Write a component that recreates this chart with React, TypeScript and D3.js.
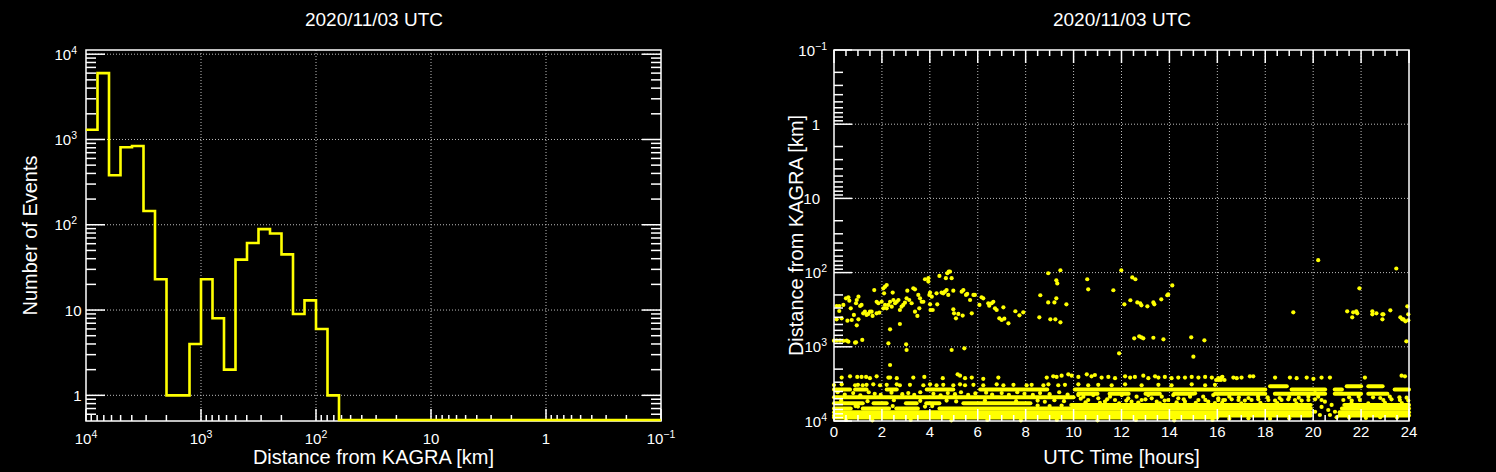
import React from "react";
import * as d3 from "d3";

// ---------- data ----------
const plotTitle = "2020/11/03 UTC";

// Histogram: 50 bins, 0.1 decade wide, from 10^4 km down to 10^-1 km
const histCounts = [
  1300, 6000, 380, 810, 840, 145, 23, 1, 1, 4,
  23, 8, 2, 39, 61, 89, 79, 45, 9, 13,
  6, 1, 0, 0, 0, 0, 0, 0, 0, 0,
  0, 0, 0, 0, 0, 0, 0, 0, 0, 0,
  0, 0, 0, 0, 0, 0, 0, 0, 0, 0,
];
const histLogStart = 4;
const histBinWidthLog = 0.1;

const distTicks = [1e4, 1e3, 1e2, 10, 1, 0.1];
const distTickLabels = ["10^4", "10^3", "10^2", "10", "1", "10^−1"];
const countTicks = [1e4, 1e3, 1e2, 10, 1];
const countTickLabels = ["10^4", "10^3", "10^2", "10", "1"];
const hourTicks = [0, 2, 4, 6, 8, 10, 12, 14, 16, 18, 20, 22, 24];

// Scatter: isolated events [hour, km]
const upperEvents: [number, number][] = [
  [0.11, 282], [0.22, 282], [0.39, 273], [0.22, 329], [0.11, 426], [0.32, 413], [0.56, 445],
  [0.5, 222], [0.6, 215], [0.64, 239], [0.7, 303], [0.74, 435], [0.83, 372], [0.92, 259],
  [0.95, 234], [1.02, 211], [0.95, 514], [1.02, 426], [1.09, 282], [1.15, 273], [1.22, 354],
  [1.29, 336], [1.36, 372], [1.43, 361], [1.5, 336], [1.57, 336], [1.61, 384], [1.68, 172],
  [1.78, 354], [1.78, 247], [1.85, 259], [1.89, 347], [1.99, 247], [2.06, 163], [2.09, 190],
  [2.13, 155], [2.2, 147], [2.06, 303], [2.13, 273], [2.2, 303], [2.27, 273], [2.34, 247],
  [2.41, 288], [2.45, 186], [2.48, 234], [2.55, 259], [2.62, 247], [2.69, 234], [2.75, 319],
  [2.75, 493], [2.34, 582], [2.82, 288], [2.89, 273], [2.96, 254], [3.03, 222], [3.06, 175],
  [3.14, 234], [3.24, 259], [3.31, 163], [3.38, 168], [3.38, 336], [3.48, 384], [3.52, 200],
  [3.59, 222], [3.56, 303], [3.66, 247], [3.73, 247], [3.8, 123], [3.94, 119], [3.94, 132],
  [3.98, 200], [4.01, 186], [4.08, 211], [4.01, 268], [4.03, 319], [4.12, 319], [4.28, 190],
  [4.31, 268], [4.4, 111], [4.49, 186], [4.56, 190], [4.63, 181], [4.7, 172], [4.67, 119],
  [4.73, 102], [4.79, 97], [4.84, 97], [4.91, 119], [4.77, 200], [4.98, 175], [4.98, 313],
  [5.01, 354], [5.09, 413], [5.19, 361], [5.33, 181], [5.4, 172], [5.37, 380], [5.51, 200],
  [5.56, 194], [5.68, 234], [5.75, 354], [5.82, 200], [5.88, 200], [6.07, 273], [6.16, 215],
  [6.23, 222], [6.44, 259], [6.48, 279], [6.58, 259], [6.65, 247], [6.72, 303], [6.79, 319],
  [6.9, 413], [7.0, 435], [7.07, 294], [7.11, 418], [7.28, 483], [7.57, 332], [7.74, 376],
  [7.9, 343],
  [0.0, 826], [0.11, 826], [0.25, 826], [0.39, 830], [0.53, 826], [0.6, 853], [0.88, 880],
  [0.92, 871], [1.18, 809], [2.27, 898], [3.01, 927], [3.03, 1104], [4.91, 1104], [5.44, 1050],
  [2.34, 1760],
  [8.94, 102], [9.45, 93], [9.28, 127], [9.32, 140], [8.61, 202], [8.94, 252], [9.2, 252],
  [9.28, 222], [9.7, 268], [8.57, 401], [9.03, 426], [9.24, 426], [9.45, 468], [10.57, 123],
  [10.61, 168], [11.66, 173], [11.99, 93], [12.45, 116], [12.58, 123], [12.12, 268],
  [12.37, 236], [12.66, 252], [12.78, 259], [12.83, 276], [13.08, 285], [13.33, 252],
  [13.37, 268], [13.66, 229], [13.91, 202], [13.95, 197], [14.12, 149], [12.53, 769],
  [12.74, 723], [12.83, 745], [12.91, 769], [13.33, 755], [13.75, 793], [14.91, 745],
  [15.46, 818], [15.0, 1360], [11.9, 1225], [19.17, 343], [20.21, 68], [21.42, 333],
  [21.63, 401], [21.67, 343], [21.8, 333], [21.84, 354], [21.93, 163], [22.47, 333],
  [22.47, 365], [22.64, 354], [22.89, 365], [22.93, 365], [22.89, 426], [23.22, 322],
  [23.47, 88], [23.64, 401], [23.72, 426], [23.77, 426], [23.85, 454], [23.93, 285],
  [23.97, 365], [23.97, 440], [23.89, 843],
];

// Sparse events at the top of the lower cluster (~2300–2800 km)
const bandTopEvents: [number, number][] = [
  [0.32, 2600], [0.67, 2500], [0.97, 2550], [1.15, 2550], [1.34, 2550], [1.5, 2650], [1.78, 2500],
  [2.27, 2600], [2.34, 2600], [2.62, 2650], [3.31, 2600], [3.77, 2550], [4.54, 2650], [5.16, 2350],
  [5.26, 2450], [5.47, 2650], [5.75, 2600], [6.23, 2700], [6.86, 2600],
  [8.88, 2600], [9.15, 2500], [9.29, 2550], [9.5, 2450], [9.78, 2350], [9.92, 2450], [10.2, 2550],
  [10.55, 2350], [10.75, 2500], [10.89, 2400], [11.17, 2600], [11.45, 2550], [11.73, 2650],
  [12.15, 2500], [12.36, 2600], [12.56, 2550], [12.91, 2450], [13.12, 2650], [13.4, 2500],
  [13.54, 2600], [13.81, 2550], [14.09, 2650], [14.37, 2600], [14.65, 2600], [14.93, 2550],
  [15.21, 2600], [15.49, 2550], [15.77, 2600], [16.04, 2650], [16.18, 2600],
  [16.21, 2540], [16.67, 2600], [16.81, 2650], [17.01, 2600], [17.36, 2500], [17.5, 2500],
  [18.41, 2600], [19.03, 2600], [19.31, 2650], [19.73, 2600], [20.01, 2700], [20.35, 2600],
  [20.7, 2600], [22.16, 2600], [23.69, 2450], [23.83, 2500],
  [15.95, 2800], [16.05, 2800], [16.15, 2800], [16.3, 2800],
];

// Sparse events at ~3100–3400 km
const bandMidEvents: [number, number][] = [
  [0.0, 3270], [0.32, 3200], [0.88, 3300], [1.0, 3250], [1.2, 3300], [1.36, 3250], [1.64, 3200],
  [1.92, 3300], [2.2, 3250], [2.62, 3200], [2.75, 3300], [3.17, 3250], [3.73, 3300], [4.01, 3200],
  [4.28, 3300], [4.56, 3250], [4.98, 3300], [5.26, 3200], [5.47, 3300], [5.82, 3250], [6.23, 3300],
  [6.79, 3200], [7.07, 3300], [7.49, 3250], [8.04, 3300],
  [8.25, 3250], [8.74, 3300], [8.95, 3200], [9.36, 3300], [9.64, 3250], [10.2, 3200], [10.61, 3300],
  [11.03, 3250], [11.59, 3300], [12.15, 3200], [12.84, 3300], [13.54, 3250], [14.09, 3300],
  [14.93, 3200], [15.49, 3300], [15.9, 3250],
];

// Scattered events inside the dense band
const bandScatterEvents: [number, number][] = [
  [10.2, 4470], [10.41, 4700], [10.61, 5210], [10.82, 4470], [11.03, 4950], [11.31, 5490],
  [11.52, 4700], [11.73, 5210], [12.01, 4470], [12.28, 4950], [12.42, 5490], [12.63, 4700],
  [12.84, 5210], [13.12, 4470], [13.26, 4950], [13.47, 5490], [13.68, 4700], [13.95, 5210],
  [14.16, 4470], [14.37, 4950], [14.65, 5490], [14.86, 4700], [15.07, 4240], [15.21, 5210],
  [15.41, 4700], [15.62, 5490], [15.83, 4470], [16.04, 4950], [16.25, 5210],
  [16.04, 5210], [16.32, 5210], [16.6, 5100], [16.88, 5210], [17.15, 5300], [17.43, 5210],
  [17.71, 5100], [18.13, 5210], [18.41, 5300], [18.68, 5210], [18.96, 5100], [19.24, 5210],
  [19.52, 5300], [19.8, 5210], [20.08, 5100], [20.35, 5210], [21.26, 5210], [21.61, 5300],
  [21.95, 5210], [22.93, 5210], [23.27, 5100], [23.62, 5210], [23.97, 5300],
  [20.08, 3820], [20.21, 4700], [20.35, 6470], [20.49, 5490], [20.63, 7110], [20.7, 8300],
  [20.77, 6080], [20.91, 7500], [20.98, 8900], [20.08, 7500], [20.28, 8300],
  [0.15, 4100], [0.45, 4400], [0.8, 4200], [1.1, 4500], [1.45, 4100], [1.7, 4300], [1.95, 4450],
  [2.4, 4150], [2.85, 4350], [3.1, 4200], [3.35, 4450], [3.6, 4100], [4.15, 4300], [4.45, 4500],
  [4.75, 4200], [5.05, 4350], [5.3, 4100], [5.6, 4450], [5.9, 4250], [6.35, 4150], [6.6, 4400],
  [7.0, 4200], [7.3, 4450], [7.65, 4100], [7.95, 4300], [8.3, 4450], [8.6, 4200], [9.0, 4350],
  [9.4, 4100], [9.75, 4400],
  [0.3, 5300], [1.4, 5400], [2.5, 5250], [3.6, 5350], [4.7, 5300], [5.1, 5450], [6.3, 5300],
  [7.6, 5400], [8.5, 5300], [8.8, 5500], [9.2, 5250], [9.6, 5400],
  [0.9, 6300], [1.0, 6400], [2.45, 6300], [3.8, 6400], [4.1, 6300], [8.5, 6200], [9.0, 6300],
  [9.5, 6200],
  [0.5, 9700], [1.6, 9800], [3.2, 9700], [4.9, 9800], [6.4, 9700], [7.8, 9800], [9.3, 9700],
  [11.0, 9800], [12.6, 9700], [14.2, 9800], [15.8, 9700], [16.5, 9300], [17.3, 9200],
  [18.2, 9300], [19.0, 9200], [21.5, 9000], [22.2, 9100], [22.8, 8900], [23.5, 9000],
  [10.3, 5000], [10.5, 5600], [11.1, 5700], [11.4, 5100], [11.9, 5800], [12.2, 5300],
  [12.7, 5650], [13.0, 5100], [13.6, 5800], [13.8, 5300], [14.3, 5600], [14.6, 5100],
  [15.1, 5700], [15.5, 5200], [15.9, 5750], [16.5, 4700], [16.9, 4800], [17.3, 4900],
  [17.7, 4700], [18.1, 4800], [18.6, 4900], [19.0, 4750], [19.4, 4850], [19.8, 4700],
  [21.5, 4800], [21.9, 4700], [22.5, 4800], [22.8, 4900], [23.2, 4700], [23.6, 4800],
  [23.9, 4850], [16.2, 5700], [17.0, 5800], [17.8, 5700], [18.5, 5750], [19.3, 5800],
  [21.6, 5750], [22.3, 5800], [23.0, 5700], [23.7, 5750],
];

// Dense runs of events that merge into continuous streaks [startHour, endHour, km]
const denseStreaks: [number, number, number][] = [
  [0, 16.0, 9000],
  [0, 19.9, 8400], [21.1, 24, 8400],
  [0, 19.9, 7600], [21.1, 24, 7600],
  [0, 0.7, 6800], [1.2, 2.3, 6800], [2.6, 3.5, 6800], [4.4, 19.9, 6800], [21.2, 24, 6800],
  [9.9, 19.9, 6100], [21.3, 24, 6100],
  [0, 1.2, 5770], [1.65, 2.2, 5770], [3.0, 3.45, 5770], [3.85, 4.4, 5770], [5.4, 8.2, 5770],
  [0, 10, 4800],
  [10.2, 11.0, 4300], [11.5, 12.3, 4300], [13.0, 13.6, 4300], [14.2, 15.0, 4300],
  [15.9, 18.0, 4300], [18.4, 20.5, 4300], [20.9, 22.0, 4300], [22.3, 23.1, 4300],
  [0, 0.67, 3750], [0.88, 1.36, 3750], [2.2, 2.62, 3750], [3.87, 4.98, 3750], [6.1, 8.9, 3750],
  [10.05, 18.0, 3750], [19.1, 20.5, 3750], [20.9, 21.2, 3750], [23.4, 24, 3750],
  [18.2, 18.9, 3400], [21.4, 22.0, 3400], [22.3, 22.9, 3400],
];

// ---------- styles ----------
const FONT = "'Liberation Sans', Arial, Helvetica, sans-serif";
const YELLOW = "#ffff00";
const GRID = "#bdbdbd";

function PowLabel(props: { x: number; y: number; label: string; anchor: string; size?: number }) {
  const { x, y, label, anchor } = props;
  const size = props.size ?? 15;
  const [base, exp] = label.split("^");
  return (
    <text x={x} y={y} textAnchor={anchor} fontSize={size} fill="#fff" fontFamily={FONT}>
      {base}
      {exp !== undefined && (
        <tspan dy={-6} fontSize={size * 0.7}>
          {exp}
        </tspan>
      )}
    </text>
  );
}

function logMinors(lo: number, hi: number): number[] {
  const out: number[] = [];
  for (let n = -2; n <= 5; n++) {
    for (let k = 2; k <= 9; k++) {
      const v = k * Math.pow(10, n);
      if (v > lo * 1.0001 && v < hi * 0.9999) out.push(v);
    }
  }
  return out;
}

export default function App() {
  // Left panel
  const L = { x0: 86, x1: 661, y0: 50, y1: 421 };
  const xL = d3.scaleLog().domain([1e4, 0.1]).range([L.x0, L.x1]);
  const yL = d3.scaleLog().domain([0.5, 11200]).range([L.y1, L.y0]);

  // Right panel
  const R = { x0: 834, x1: 1409, y0: 50, y1: 421 };
  const xR = d3.scaleLinear().domain([0, 24]).range([R.x0, R.x1]);
  const yR = d3.scaleLog().domain([0.1, 1e4]).range([R.y0, R.y1]);

  const edges = d3.range(histCounts.length + 1).map((i) => Math.pow(10, histLogStart - i * histBinWidthLog));
  const yc = (c: number) => (c > 0 ? yL(c) : L.y1 - 1);
  let hp = `M${xL(edges[0])},${yc(histCounts[0])}`;
  histCounts.forEach((c, i) => {
    hp += `H${xL(edges[i + 1])}`;
    if (i + 1 < histCounts.length) hp += `V${yc(histCounts[i + 1])}`;
  });

  const leftYMinor = logMinors(0.5, 11200);
  const leftXMinor = logMinors(0.1, 1e4);
  const rightYMinor = logMinors(0.1, 1e4);
  const hourMinor = d3.range(0, 24.01, 0.5).filter((h) => h % 2 !== 0);

  const dots = [...upperEvents, ...bandTopEvents, ...bandMidEvents, ...bandScatterEvents];

  return (
    <svg
      width={1496}
      height={472}
      style={{ position: "fixed", left: 0, top: 0, background: "#000" }}
      fontFamily={FONT}
    >
      <rect x={0} y={0} width={1496} height={472} fill="#000" />

      {/* ================= LEFT PANEL ================= */}
      <text x={374} y={26} textAnchor="middle" fontSize={19} fill="#fff">
        {plotTitle}
      </text>
      {distTicks.slice(1, -1).map((v) => (
        <line key={"lgx" + v} x1={xL(v)} x2={xL(v)} y1={L.y0} y2={L.y1} stroke={GRID} strokeDasharray="1 2" />
      ))}
      {countTicks.map((v) => (
        <line key={"lgy" + v} x1={L.x0} x2={L.x1} y1={yL(v)} y2={yL(v)} stroke={GRID} strokeDasharray="1 2" />
      ))}
      <rect x={L.x0} y={L.y0} width={L.x1 - L.x0} height={L.y1 - L.y0} fill="none" stroke="#fff" strokeWidth={1.5} />
      {countTicks.map((v) => (
        <g key={"lty" + v}>
          <line x1={L.x0} x2={L.x0 + 19} y1={yL(v)} y2={yL(v)} stroke="#fff" strokeWidth={1.5} />
          <line x1={L.x1} x2={L.x1 - 19} y1={yL(v)} y2={yL(v)} stroke="#fff" strokeWidth={1.5} />
        </g>
      ))}
      {leftYMinor.map((v) => (
        <g key={"ltym" + v}>
          <line x1={L.x0} x2={L.x0 + 10} y1={yL(v)} y2={yL(v)} stroke="#fff" strokeWidth={1.5} />
          <line x1={L.x1} x2={L.x1 - 10} y1={yL(v)} y2={yL(v)} stroke="#fff" strokeWidth={1.5} />
        </g>
      ))}
      {distTicks.map((v) => (
        <line key={"ltx" + v} x1={xL(v)} x2={xL(v)} y1={L.y1} y2={L.y1 - 12} stroke="#fff" strokeWidth={1.5} />
      ))}
      {leftXMinor.map((v) => (
        <line key={"ltxm" + v} x1={xL(v)} x2={xL(v)} y1={L.y1} y2={L.y1 - 6} stroke="#fff" strokeWidth={1.5} />
      ))}
      <path d={hp} fill="none" stroke={YELLOW} strokeWidth={2.6} />
      {countTicks.map((v, i) => (
        <PowLabel
          key={"lly" + v}
          x={countTickLabels[i].includes("^") ? 77 : 81.5}
          y={yL(v) + 5.5}
          label={countTickLabels[i]}
          anchor="end"
        />
      ))}
      {distTicks.map((v, i) => (
        <PowLabel key={"llx" + v} x={xL(v)} y={443.5} label={distTickLabels[i]} anchor="middle" />
      ))}
      <text x={373.5} y={464} textAnchor="middle" fontSize={20} fill="#fff">
        Distance from KAGRA [km]
      </text>
      <text transform="translate(37,235.5) rotate(-90)" textAnchor="middle" fontSize={20} fill="#fff">
        Number of Events
      </text>

      {/* ================= RIGHT PANEL ================= */}
      <text x={1122} y={26} textAnchor="middle" fontSize={19} fill="#fff">
        {plotTitle}
      </text>
      {hourTicks.slice(1, -1).map((h) => (
        <line key={"rgx" + h} x1={xR(h)} x2={xR(h)} y1={R.y0} y2={R.y1} stroke={GRID} strokeDasharray="1 2" />
      ))}
      {distTicks.slice(1, -1).map((v) => (
        <line key={"rgy" + v} x1={R.x0} x2={R.x1} y1={yR(v)} y2={yR(v)} stroke={GRID} strokeDasharray="1 2" />
      ))}
      <g>
        {denseStreaks.map(([h0, h1, km], i) => (
          <line
            key={"st" + i}
            x1={xR(h0)}
            x2={xR(h1)}
            y1={yR(km)}
            y2={yR(km)}
            stroke={YELLOW}
            strokeWidth={4}
            strokeLinecap="round"
          />
        ))}
        {dots.map(([h, km], i) => (
          <circle key={"pt" + i} cx={xR(h)} cy={yR(km)} r={2.1} fill={YELLOW} />
        ))}
      </g>
      <rect x={R.x0} y={R.y0} width={R.x1 - R.x0} height={R.y1 - R.y0} fill="none" stroke="#fff" strokeWidth={1.5} />
      {distTicks.map((v) => (
        <line key={"rty" + v} x1={R.x0} x2={R.x0 + 18} y1={yR(v)} y2={yR(v)} stroke="#fff" strokeWidth={1.5} />
      ))}
      {rightYMinor.map((v) => (
        <line key={"rtym" + v} x1={R.x0} x2={R.x0 + 9} y1={yR(v)} y2={yR(v)} stroke="#fff" strokeWidth={1.5} />
      ))}
      {hourTicks.map((h) => (
        <g key={"rtx" + h}>
          <line x1={xR(h)} x2={xR(h)} y1={R.y1} y2={R.y1 - 12} stroke="#fff" strokeWidth={1.5} />
          <line x1={xR(h)} x2={xR(h)} y1={R.y0} y2={R.y0 + 13} stroke="#fff" strokeWidth={1.5} />
        </g>
      ))}
      {hourMinor.map((h) => (
        <g key={"rtxm" + h}>
          <line x1={xR(h)} x2={xR(h)} y1={R.y1} y2={R.y1 - 6} stroke="#fff" strokeWidth={1.5} />
          <line x1={xR(h)} x2={xR(h)} y1={R.y0} y2={R.y0 + 6} stroke="#fff" strokeWidth={1.5} />
        </g>
      ))}
      {distTicks.map((v, i) => (
        <PowLabel
          key={"rly" + v}
          x={distTickLabels[i].includes("^") ? 827 : 820}
          y={yR(v) + 5.5}
          label={distTickLabels[i]}
          anchor="end"
        />
      ))}
      {hourTicks.map((h) => (
        <text key={"rlx" + h} x={xR(h)} y={437} textAnchor="middle" fontSize={15} fill="#fff">
          {h}
        </text>
      ))}
      <text x={1121.5} y={464} textAnchor="middle" fontSize={20} fill="#fff">
        UTC Time [hours]
      </text>
      <text transform="translate(803,235.5) rotate(-90)" textAnchor="middle" fontSize={20} fill="#fff">
        Distance from KAGRA [km]
      </text>
    </svg>
  );
}
